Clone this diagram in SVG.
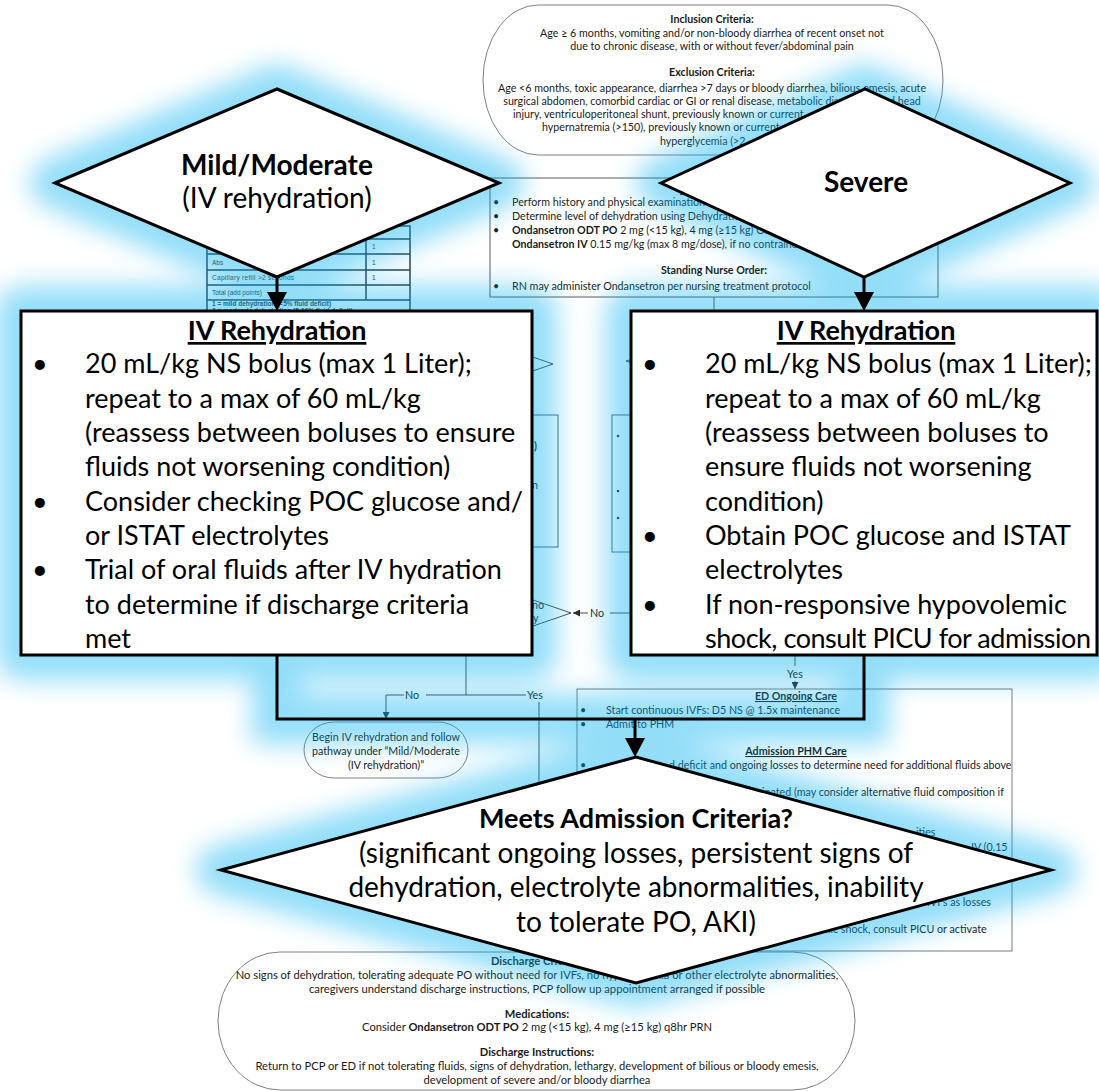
<svg xmlns="http://www.w3.org/2000/svg" width="1099" height="1091" viewBox="0 0 1099 1091">
<style>
.bg{font-family:Lato,"Liberation Sans",sans-serif;font-size:10.7px;fill:#1a1a1a}
.dc{font-size:11.2px}
.bgc{text-anchor:middle}
.b{font-weight:bold}
.u{text-decoration:underline}
.tb{font-family:"Liberation Sans",sans-serif;font-size:6.5px;fill:#333}
.ln{fill:none;stroke:#4a4a4a;stroke-width:1}
.sd{fill:none;stroke:#808080;stroke-width:1}
.fg{font-family:Lato,"Liberation Sans",sans-serif;font-size:27px;fill:#000}
.fd{font-size:28px}
.fgs{fill:#fff;stroke:#000;stroke-width:3}
.fgl{fill:none;stroke:#000;stroke-width:3}
.gl{fill:#00B0F0;stroke:#00B0F0;stroke-width:50;stroke-linejoin:round}
.gll{fill:none;stroke:#00B0F0;stroke-width:50}
</style>
<defs>
<filter id="glow" x="-15%" y="-15%" width="130%" height="130%"><feGaussianBlur stdDeviation="13"/></filter>
<marker id="ah" viewBox="0 0 10 10" refX="10" refY="5" markerWidth="7" markerHeight="7" markerUnits="userSpaceOnUse" orient="auto"><path d="M0,0 L10,5 L0,10 z" fill="#2a2a2a"/></marker>
</defs>
<rect width="1099" height="1091" fill="#fff"/>

<g id="background">
<g id="inclusion">
<rect class="sd" x="483" y="5" width="460" height="150" rx="55" ry="75" fill="#fff"/>
<text class="bg bgc b" x="712" y="23">Inclusion Criteria:</text>
<text class="bg bgc" x="712" y="37">Age ≥ 6 months, vomiting and/or non-bloody diarrhea of recent onset not</text>
<text class="bg bgc" x="712" y="50">due to chronic disease, with or without fever/abdominal pain</text>
<text class="bg bgc b" x="712" y="76">Exclusion Criteria:</text>
<text class="bg bgc" x="712" y="92">Age &lt;6 months, toxic appearance, diarrhea &gt;7 days or bloody diarrhea, bilious emesis, acute</text>
<text class="bg bgc" x="712" y="105">surgical abdomen, comorbid cardiac or GI or renal disease, metabolic disease, closed head</text>
<text class="bg" x="513" y="118">injury, ventriculoperitoneal shunt, previously known or current</text>
<text class="bg" x="542" y="131">hypernatremia (&gt;150), previously known or current</text>
<text class="bg" x="660" y="145">hyperglycemia (&gt;2</text>
</g>
<g id="initial-care">
<rect x="490" y="178" width="448" height="119" fill="#fff" stroke="#5a5a5a" stroke-width="1"/>
<text class="bg bgc b u" x="714" y="193">Initial ED Care</text>
<text class="bg" x="493" y="206">•</text><text class="bg" x="512" y="206">Perform history and physical examination</text>
<text class="bg" x="493" y="220">•</text><text class="bg" x="512" y="220">Determine level of dehydration using Dehydration Scale</text>
<text class="bg" x="493" y="234">•</text><text class="bg" x="512" y="234"><tspan class="b">Ondansetron ODT PO</tspan> 2 mg (&lt;15 kg), 4 mg (≥15 kg) OR</text>
<text class="bg" x="512" y="248"><tspan class="b">Ondansetron IV</tspan> 0.15 mg/kg (max 8 mg/dose), if no contraindications</text>
<text class="bg bgc b" x="714" y="274">Standing Nurse Order:</text>
<text class="bg" x="493" y="290">•</text><text class="bg" x="512" y="290">RN may administer Ondansetron per nursing treatment protocol</text>
</g>
<g id="scale-table">
<rect x="207" y="226" width="203" height="95" fill="#fff" stroke="#2b3b4b" stroke-width="1.5"/>
<path d="M207 239H410M207 254H410M207 270H410M207 285H410M207 300H410M366 226V300" stroke="#2b3b4b" stroke-width="1.5" fill="none"/>
<text class="tb" x="372" y="249">1</text>
<text class="tb" x="212" y="265">Abs</text><text class="tb" x="372" y="265">1</text>
<text class="tb" x="212" y="280" letter-spacing="0.3">Capillary refill &gt;2 seconds</text><text class="tb" x="372" y="280">1</text>
<text class="tb" x="212" y="295">Total (add points)</text>
<text class="tb b" x="212" y="306">1 = mild dehydration (&lt;5% fluid deficit)</text>
<text class="tb b" x="212" y="313">2 = moderate dehydration (5-10% fluid deficit)</text>
</g>
<g id="mid-left">
<polygon class="ln" points="553,364 420,318 300,364 420,410" fill="#fff"/>
<rect x="330" y="415" width="228" height="132" fill="#fff" stroke="#4a6a80" stroke-width="1"/>
<text class="bg b" x="534" y="450">)</text>
<text class="bg" x="532" y="489">n</text>
<polygon class="ln" points="571,613 466,577 361,613 466,649" fill="#fff"/>
<text class="bg" x="532" y="609">no</text>
<text class="bg" x="533" y="622">y</text>
</g>
<g id="mid-right">
<polygon class="ln" points="626,361 760,320 900,361 760,402" fill="#fff"/>
<rect x="612" y="415" width="240" height="137" fill="#fff" stroke="#4a6a80" stroke-width="1"/>
<circle cx="618" cy="436" r="1.3" fill="#333"/>
<circle cx="618" cy="491" r="1.3" fill="#333"/>
<circle cx="618" cy="518" r="1.3" fill="#333"/>
</g>
<g id="begin-iv">
<rect class="sd" x="304" y="722" width="164" height="56" rx="30" ry="28" fill="#fff"/>
<text class="bg bgc" x="386" y="741">Begin IV rehydration and follow</text>
<text class="bg bgc" x="386" y="755">pathway under “Mild/Moderate</text>
<text class="bg bgc" x="386" y="769">(IV rehydration)”</text>
</g>
<g id="ed-ongoing">
<rect x="577" y="689" width="435" height="262" fill="#fff" stroke="#7a7a7a" stroke-width="1"/>
<text class="bg bgc b u" x="796" y="700">ED Ongoing Care</text>
<text class="bg" x="580" y="714">•</text><text class="bg" x="606" y="714">Start continuous IVFs: D5 NS @ 1.5x maintenance</text>
<text class="bg" x="580" y="728">•</text><text class="bg" x="606" y="728">Admit to PHM</text>
<text class="bg bgc b u" x="796" y="755">Admission PHM Care</text>
<text class="bg" x="580" y="769">•</text><text class="bg" x="669" y="769">d deficit and ongoing losses to determine need for additional fluids above</text>
<text class="bg" x="762" y="796">inated (may consider alternative fluid composition if</text>
<text class="bg" x="916" y="836">ities</text>
<text class="bg" x="971" y="851">IV (0.15</text>
<text class="bg" x="927" y="906">IVFs as losses</text>
<text class="bg" x="816" y="933">emic shock, consult PICU or activate</text>
</g>
<g id="discharge">
<rect class="sd" x="218" y="952" width="637" height="138" rx="62" ry="69" fill="#fff"/>
<text class="bg dc bgc b" x="537" y="965">Discharge Criteria:</text>
<text class="bg dc bgc" x="537" y="979">No signs of dehydration, tolerating adequate PO without need for IVFs, no hypoglycemia or other electrolyte abnormalities,</text>
<text class="bg dc bgc" x="537" y="993">caregivers understand discharge instructions, PCP follow up appointment arranged if possible</text>
<text class="bg dc bgc b" x="537" y="1018">Medications:</text>
<text class="bg dc bgc" x="537" y="1031">Consider <tspan class="b">Ondansetron ODT PO</tspan> 2 mg (&lt;15 kg), 4 mg (≥15 kg) q8hr PRN</text>
<text class="bg dc bgc b" x="537" y="1056">Discharge Instructions:</text>
<text class="bg dc bgc" x="537" y="1070">Return to PCP or ED if not tolerating fluids, signs of dehydration, lethargy, development of bilious or bloody emesis,</text>
<text class="bg dc bgc" x="537" y="1084">development of severe and/or bloody diarrhea</text>
</g>
<g id="bg-connectors">
<path class="ln" d="M714 297V315"/>
<path class="ln" d="M631 613H610M588 613H573" marker-end="url(#ah)"/>
<text class="bg" x="590" y="617">No</text>
<path class="ln" d="M466 650V695H426M404 695H386V719" marker-end="url(#ah)"/>
<text class="bg" x="405" y="699">No</text>
<path class="ln" d="M466 695H526"/>
<text class="bg" x="527" y="699">Yes</text>
<path class="ln" d="M539 702V860"/>
<path class="ln" d="M795 656V666"/>
<text class="bg bgc" x="795" y="678">Yes</text>
<path class="ln" d="M795 681V689" marker-end="url(#ah)"/>
</g>
</g>

<g id="glow-layer" filter="url(#glow)" opacity="0.42">
<polygon class="gl" points="55,183 277,89 499,183 277,277"/>
<polygon class="gl" points="661,183 865,89 1070,183 864,277"/>
<rect class="gl" x="21" y="311" width="511" height="344"/>
<rect class="gl" x="631" y="311" width="466" height="344"/>
<polygon class="gl" points="221,870 636,757 1051,870 636,983"/>
<path class="gll" d="M277 277V311M864 277V311M277 655V719H864V655M635 719V757"/>
</g>

<g id="connectors">
<path class="fgl" d="M277 277V292"/>
<polygon points="267,292 287,292 277,311" fill="#000"/>
<path class="fgl" d="M864 277V292"/>
<polygon points="854,292 874,292 864,311" fill="#000"/>
<path class="fgl" d="M277 655V719H864V655"/>
<path class="fgl" d="M635 719V738"/>
<polygon points="625,738 645,738 635,757" fill="#000"/>
</g>

<g id="mild-moderate">
<polygon class="fgs" points="55,183 277,89 499,183 277,277"/>
<text class="fg fd b" x="277" y="175" text-anchor="middle">Mild/Moderate</text>
<text class="fg fd" x="277" y="208" text-anchor="middle">(IV rehydration)</text>
</g>
<g id="severe">
<polygon class="fgs" points="661,183 865,89 1070,183 864,277"/>
<text class="fg fd b" x="866" y="192" text-anchor="middle">Severe</text>
</g>
<g id="iv-left">
<rect class="fgs" x="21" y="311" width="511" height="344"/>
<text class="fg b u" x="277" y="340" text-anchor="middle">IV Rehydration</text>
<text class="fg" x="32" y="373">•</text><text class="fg" x="85" y="373">20 mL/kg NS bolus (max 1 Liter);</text>
<text class="fg" x="85" y="407.5">repeat to a max of 60 mL/kg</text>
<text class="fg" x="85" y="442">(reassess between boluses to ensure</text>
<text class="fg" x="85" y="476">fluids not worsening condition)</text>
<text class="fg" x="32" y="510.5">•</text><text class="fg" x="85" y="510.5">Consider checking POC glucose and/</text>
<text class="fg" x="85" y="545">or ISTAT electrolytes</text>
<text class="fg" x="32" y="579">•</text><text class="fg" x="85" y="579">Trial of oral fluids after IV hydration</text>
<text class="fg" x="85" y="613.5">to determine if discharge criteria</text>
<text class="fg" x="85" y="648">met</text>
</g>
<g id="iv-right">
<rect class="fgs" x="631" y="311" width="466" height="344"/>
<text class="fg b u" x="866" y="340" text-anchor="middle">IV Rehydration</text>
<text class="fg" x="642" y="373">•</text><text class="fg" x="705" y="373">20 mL/kg NS bolus (max 1 Liter);</text>
<text class="fg" x="705" y="407.5">repeat to a max of 60 mL/kg</text>
<text class="fg" x="705" y="442">(reassess between boluses to</text>
<text class="fg" x="705" y="476">ensure fluids not worsening</text>
<text class="fg" x="705" y="510.5">condition)</text>
<text class="fg" x="642" y="545">•</text><text class="fg" x="705" y="545">Obtain POC glucose and ISTAT</text>
<text class="fg" x="705" y="579">electrolytes</text>
<text class="fg" x="642" y="613.5">•</text><text class="fg" x="705" y="613.5">If non-responsive hypovolemic</text>
<text class="fg" x="705" y="648" textLength="386" lengthAdjust="spacing">shock, consult PICU for admission</text>
</g>
<g id="admission">
<polygon class="fgs" points="221,870 636,757 1051,870 636,983"/>
<text class="fg b" x="636" y="828" text-anchor="middle">Meets Admission Criteria?</text>
<text class="fg fd" x="636" y="862.5" text-anchor="middle">(significant ongoing losses, persistent signs of</text>
<text class="fg fd" x="636" y="897" text-anchor="middle">dehydration, electrolyte abnormalities, inability</text>
<text class="fg fd" x="636" y="931.5" text-anchor="middle">to tolerate PO, AKI)</text>
</g>
</svg>
